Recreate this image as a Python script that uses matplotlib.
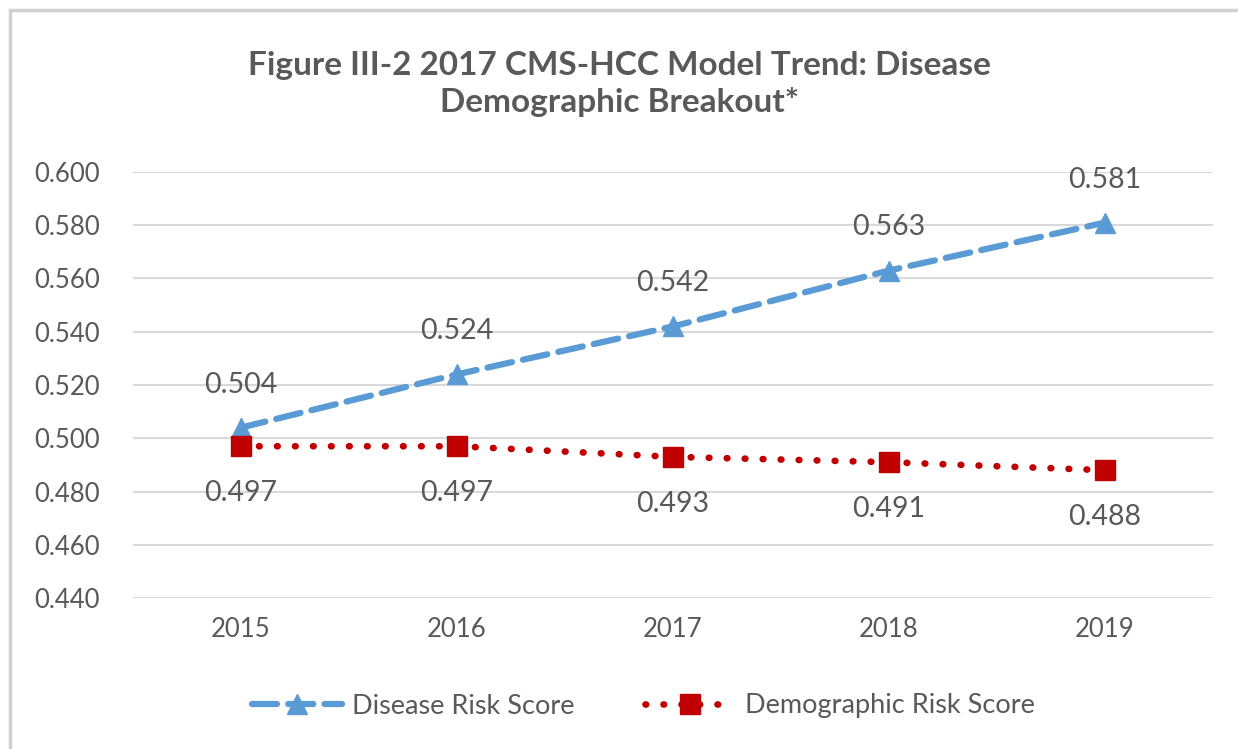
import matplotlib
matplotlib.use("Agg")
from matplotlib import pyplot as plt
from matplotlib.patches import Rectangle

# chart data
years = ["2015", "2016", "2017", "2018", "2019"]
disease = [0.504, 0.524, 0.542, 0.563, 0.581]
demographic = [0.497, 0.497, 0.493, 0.491, 0.488]
yticks = [0.44, 0.46, 0.48, 0.50, 0.52, 0.54, 0.56, 0.58, 0.60]

blue = "#5B9BD5"
red = "#C00000"
txt = "#595959"
plt.rcParams['font.family'] = ['Lato', 'DejaVu Sans']

fig = plt.figure(figsize=(12.38, 7.49), dpi=100)
# outer chart frame
fig.patches.append(Rectangle((10 / 1238, -0.05), 1.2, 1 - 10 / 749 + 0.05,
                             transform=fig.transFigure, fill=False,
                             edgecolor="#D0D0D0", linewidth=2.5))

ax = fig.add_axes([133 / 1238, 1 - 598 / 749, 1080 / 1238, 426 / 749])
x = range(len(years))

ax.plot(x, disease, color=blue, linewidth=4.5, dashes=(4, 1.8), marker="^",
        markersize=15, label="Disease Risk Score", solid_capstyle="round",
        dash_capstyle="round")
ax.plot(x, demographic, color=red, linewidth=4.8, linestyle=(0, (0.1, 2.6)),
        dash_capstyle="round", marker="s", markersize=15,
        label="Demographic Risk Score")

for i, v in enumerate(disease):
    ax.annotate(f"{v:.3f}", (i, v), xytext=(0, 31), textcoords="offset points",
                ha="center", va="center", fontsize=20.5, color=txt)
for i, v in enumerate(demographic):
    ax.annotate(f"{v:.3f}", (i, v), xytext=(0, -34), textcoords="offset points",
                ha="center", va="center", fontsize=20.5, color=txt)

ax.set_xlim(-0.5, len(years) - 0.5)
ax.set_ylim(0.44, 0.60)
ax.set_yticks(yticks)
ax.set_yticklabels([f"{t:.3f}" for t in yticks])
ax.set_xticks(list(x))
ax.set_xticklabels(years)
ax.tick_params(length=0, labelsize=18.5, labelcolor=txt, pad=24)
ax.tick_params(axis="x", pad=14)
ax.grid(axis="y", color="#D9D9D9", linewidth=1.5)
ax.set_axisbelow(True)
for s in ax.spines.values():
    s.set_visible(False)

fig.text(0.5, 1 - 84 / 749, "Figure III-2 2017 CMS-HCC Model Trend: Disease\nDemographic Breakout*",
         ha="center", va="center", fontsize=24, fontweight="bold", color=txt,
         linespacing=1.3)

leg = fig.legend(loc="center", bbox_to_anchor=(0.52, 1 - 706 / 749), ncol=2,
                 frameon=False, fontsize=19.5, handlelength=3.3, columnspacing=2.6,
                 handletextpad=0.4)
for t in leg.get_texts():
    t.set_color(txt)

plt.savefig("out.png", dpi=100)
